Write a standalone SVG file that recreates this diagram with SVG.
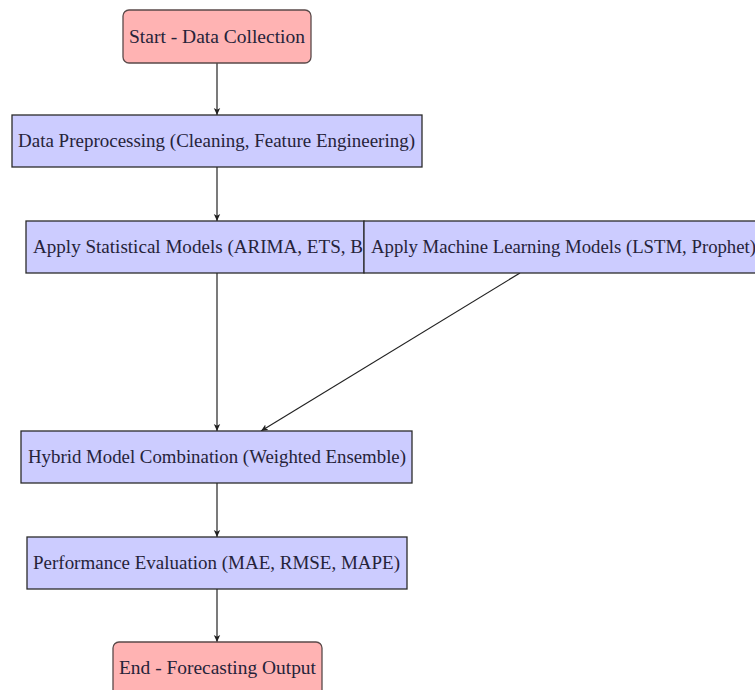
<svg xmlns="http://www.w3.org/2000/svg" width="755" height="690" viewBox="0 0 755 690">
<style>
.blue{fill:#ccccff;stroke:#2b2b2b;stroke-width:1.3}
.red{fill:#ffb3b3;stroke:#5a4a4a;stroke-width:1.3}
.t{font-family:"Liberation Serif","DejaVu Serif",serif;font-size:18px;fill:#26233a}
.c{stroke:#222;stroke-width:1.2;fill:none;marker-end:url(#ah)}
</style>
<defs>
<marker id="ah" markerWidth="8" markerHeight="8" refX="7" refY="4" orient="auto" markerUnits="userSpaceOnUse">
<path d="M0,0.8 L7,4 L0,7.2 L1.8,4 Z" fill="#222"/>
</marker>
<clipPath id="clipStat"><rect x="26" y="221" width="338" height="52"/></clipPath>
</defs>
<rect width="755" height="690" fill="#ffffff"/>
<g id="connectors">
<line class="c" x1="217" y1="63" x2="217" y2="115"/>
<line class="c" x1="217" y1="167" x2="217" y2="221"/>
<line class="c" x1="217" y1="273" x2="217" y2="431"/>
<line class="c" x1="520" y1="273" x2="261" y2="431"/>
<line class="c" x1="217" y1="483" x2="217" y2="537"/>
<line class="c" x1="217" y1="589" x2="217" y2="642"/>
</g>
<g id="start">
<rect class="red" x="123" y="10" width="188" height="53" rx="6"/>
<text class="t" x="129" y="43" textLength="176" lengthAdjust="spacingAndGlyphs">Start - Data Collection</text>
</g>
<g id="preprocessing">
<rect class="blue" x="12" y="115" width="410" height="52"/>
<text class="t" x="18" y="147" textLength="397" lengthAdjust="spacingAndGlyphs">Data Preprocessing (Cleaning, Feature Engineering)</text>
</g>
<g id="statistical">
<rect class="blue" x="26" y="221" width="338" height="52"/>
<text class="t" x="33" y="253" textLength="330" lengthAdjust="spacingAndGlyphs" clip-path="url(#clipStat)">Apply Statistical Models (ARIMA, ETS, B</text>
</g>
<g id="ml">
<rect class="blue" x="364" y="221" width="400" height="52"/>
<text class="t" x="371" y="253" textLength="385" lengthAdjust="spacingAndGlyphs">Apply Machine Learning Models (LSTM, Prophet)</text>
</g>
<g id="hybrid">
<rect class="blue" x="21" y="431" width="391" height="52"/>
<text class="t" x="28" y="463" textLength="378" lengthAdjust="spacingAndGlyphs">Hybrid Model Combination (Weighted Ensemble)</text>
</g>
<g id="evaluation">
<rect class="blue" x="27" y="537" width="380" height="52"/>
<text class="t" x="33" y="569" textLength="367" lengthAdjust="spacingAndGlyphs">Performance Evaluation (MAE, RMSE, MAPE)</text>
</g>
<g id="end">
<rect class="red" x="113" y="642" width="209" height="56" rx="6"/>
<text class="t" x="119" y="674" textLength="197" lengthAdjust="spacingAndGlyphs">End - Forecasting Output</text>
</g>
</svg>
